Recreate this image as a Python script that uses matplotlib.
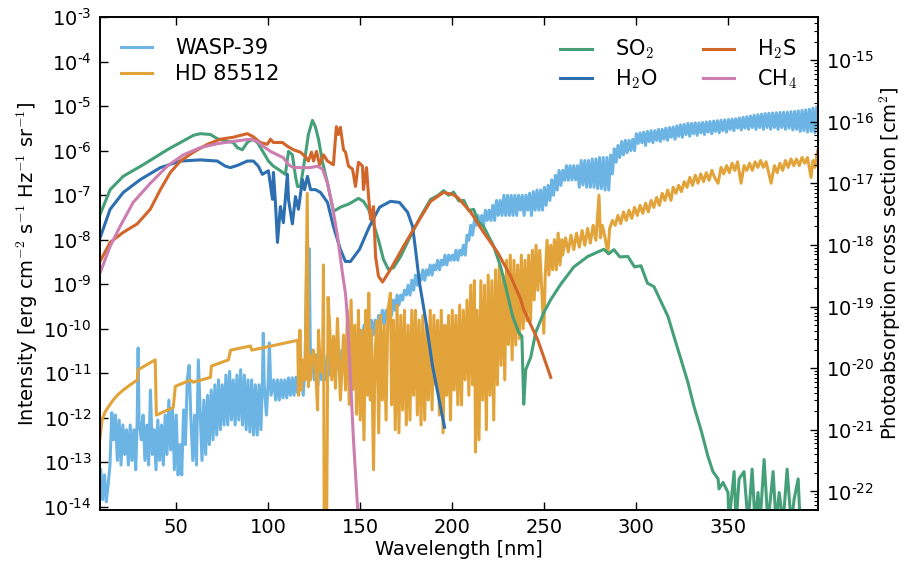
import numpy as np
import matplotlib
matplotlib.use("Agg")
import matplotlib.pyplot as plt
from matplotlib.ticker import FixedLocator, FuncFormatter, MultipleLocator, LogLocator, NullLocator, NullFormatter

plt.rcParams['font.family'] = ['DejaVu Sans']
plt.rcParams['mathtext.fontset'] = 'cm'
plt.rcParams['axes.unicode_minus'] = False

# ---- stellar spectra (left axis) ----
wasp_wl = [9, 10, 11, 12, 13, 14, 15, 16, 17, 18, 19, 20, 21, 22, 23, 24, 25, 26, 27, 28, 28.8, 29.3, 29.8,
           31, 32, 33, 34, 35, 36, 37, 38, 39, 40, 41, 42, 43, 44, 45, 46, 47, 48, 49, 50, 51, 52, 53, 54,
           55, 56, 57, 58, 59, 60, 61, 62, 63, 64, 65, 66, 67, 68, 69, 70, 71, 72, 73, 74, 75, 76, 77, 78,
           79, 80, 81, 82, 83, 84, 85, 86, 87, 88, 89, 90, 91, 92, 93, 94, 95, 96, 96.8, 97.3, 97.8, 99,
           100, 100.6, 101.5, 103, 104, 105, 106, 107, 108, 109, 110, 111, 112, 113, 114, 115, 116,
           117, 118, 119, 120, 121, 121.6, 122.2, 123, 124, 125, 126, 127, 128, 129, 130, 131, 132, 133,
           134, 135, 136, 137, 138, 139, 140, 141, 142, 143, 144, 145, 146, 147, 148, 149, 150, 151, 152,
           153, 154, 155, 156, 157, 158, 159, 160, 161, 162, 163, 164, 165, 166, 167, 168, 169, 170, 171,
           172, 173, 174, 175, 176, 177, 178, 179, 180, 181, 182, 183, 184, 185, 186, 187, 188, 189, 190,
           191, 192, 193, 194, 195, 196, 197, 198, 199, 200, 201, 202, 203, 204, 205, 206, 207, 208, 209,
           210, 211, 212, 213, 214, 215, 216, 217, 218, 219, 220, 221, 222, 223, 224, 225, 226, 227, 228,
           229, 230, 231, 232, 233, 234, 235, 236, 237, 238, 239, 240, 241, 242, 243, 244, 245, 246, 247,
           248, 249, 250, 251, 252, 253, 254, 255, 256, 257, 258, 259, 260, 261, 262, 263, 264, 265, 266,
           267, 268, 269, 270, 271, 272, 273, 274, 275, 276, 277, 278, 279, 280, 281, 282, 283, 284, 285,
           286, 287, 288, 289, 290, 291, 292, 293, 294, 295, 296, 297, 298, 299, 300, 301, 302, 303, 304,
           305, 306, 307, 308, 309, 310, 311, 312, 313, 314, 315, 316, 317, 318, 319, 320, 321, 322, 323,
           324, 325, 326, 327, 328, 329, 330, 331, 332, 333, 334, 335, 336, 337, 338, 339, 340, 341, 342,
           343, 344, 345, 346, 347, 348, 349, 350, 351, 352, 353, 354, 355, 356, 357, 358, 359, 360, 361,
           362, 363, 364, 365, 366, 367, 368, 369, 370, 371, 372, 373, 374, 375, 376, 377, 378, 379, 380,
           381, 382, 383, 384, 385, 386, 387, 388, 389, 390, 391, 392, 393, 394, 395, 396, 397, 398]
wasp_flux = [6.8e-14, 1.45e-14, 5.2e-14, 1.3e-14, 3.1e-14, 8.7e-14, 1.3e-12, 3.2e-13, 1.15e-12, 1.1e-13,
             8.9e-13, 8.7e-14, 6.9e-13, 1.5e-13, 5.4e-13, 8.7e-14, 6.9e-13, 1.1e-13, 5.4e-13, 6.8e-14,
             8.9e-13, 3.7e-11, 8.9e-13,
             3.2e-13, 1.15e-12, 1.1e-13, 6.9e-13, 8.7e-14, 4.2e-12, 1.5e-13, 5.4e-13, 6.8e-14, 8.9e-13,
             1.1e-13, 6.9e-13, 8.7e-14, 1.15e-12, 1.5e-13, 2.5e-12, 1.9e-13, 1.5e-12, 6.8e-14, 1.15e-12,
             5.2e-14, 2.5e-13, 5.2e-14, 1.5e-12,
             2.5e-13, 7.1e-12, 1.5e-11, 8.9e-13, 1.1e-13, 1.15e-12, 8.7e-14, 2.0e-11, 1.5e-12, 1.1e-13,
             2.5e-12, 1.5e-13, 3.2e-12, 2.5e-13, 4.2e-12, 3.2e-13, 5.5e-12, 4.1e-13, 7.1e-12, 5.4e-13,
             5.5e-12, 6.9e-13, 9.1e-12, 6.9e-13,
             1.1e-11, 8.9e-13, 7.1e-12, 6.9e-13, 9.1e-12, 8.9e-13, 1.2e-11, 6.9e-13, 9.1e-12, 5.4e-13,
             7.1e-12, 4.8e-13, 7.1e-12, 4.1e-13, 5.5e-12, 4.1e-13, 5.5e-12, 5.4e-13, 5.5e-12, 7.9e-11,
             5.5e-12, 1.15e-12,
             7.1e-12, 4.8e-11, 3.2e-12, 7.1e-12, 2.5e-12, 7.1e-12, 2.5e-12, 7.1e-12, 2.8e-12, 7.1e-12,
             2.8e-12, 7.9e-12, 3.2e-12, 7.9e-12, 3.2e-12, 8.2e-12, 3.6e-12,
             4.2e-12, 1.2e-11, 3.2e-12, 1.5e-11, 6.8e-9, 1.5e-11, 6.3e-9, 1.2e-11, 3.3e-11, 7.1e-12,
             2.6e-11, 5.5e-12, 2.6e-11, 7.1e-12, 2.0e-11, 7.1e-12, 2.6e-11, 9.1e-12,
             2.6e-11, 9.1e-12, 3.3e-11, 1.2e-11, 3.3e-11, 1.2e-11, 3.3e-11, 1.5e-11, 4.3e-11, 1.5e-11,
             5.5e-11, 2.0e-11, 5.5e-11, 2.6e-11, 7.2e-11, 3.3e-11, 9.3e-11, 4.3e-11, 1.2e-10,
             5.5e-11, 1.55e-10, 7.2e-11, 1.55e-10, 7.2e-11, 1.55e-10, 9.3e-11, 2.0e-10, 1.2e-10, 2.6e-10,
             1.2e-10, 2.6e-10, 1.55e-10, 3.4e-10, 2.0e-10, 4.4e-10, 2.6e-10, 5.7e-10, 3.4e-10,
             5.7e-10, 4.4e-10, 7.3e-10, 5.7e-10, 9.5e-10, 5.7e-10, 1.23e-9, 7.3e-10, 1.6e-9, 9.5e-10,
             1.6e-9, 1.23e-9, 2.1e-9, 1.23e-9, 2.1e-9, 1.6e-9, 2.7e-9, 1.6e-9, 2.7e-9,
             2.1e-9, 3.45e-9, 2.1e-9, 3.45e-9, 2.7e-9, 4.5e-9, 2.7e-9, 4.5e-9, 3.45e-9, 4.5e-9, 3.45e-9,
             5.8e-9, 3.45e-9, 5.8e-9, 4.5e-9, 7.5e-9, 4.5e-9, 1.26e-8, 9.7e-9,
             2.1e-8, 1.26e-8, 2.7e-8, 2.1e-8, 3.5e-8, 2.1e-8, 3.5e-8, 2.1e-8, 4.6e-8, 2.7e-8, 4.6e-8,
             2.7e-8, 5.9e-8, 2.7e-8, 7.6e-8, 3.5e-8, 7.6e-8, 3.5e-8, 9.9e-8,
             3.5e-8, 9.9e-8, 3.5e-8, 9.9e-8, 3.5e-8, 9.9e-8, 3.5e-8, 9.9e-8, 4.6e-8, 9.9e-8, 3.5e-8,
             1.0e-7, 4.6e-8, 1.1e-7, 3.5e-8, 1.2e-7, 4.6e-8, 1.3e-7, 4.6e-8,
             1.3e-7, 4.6e-8, 1.5e-7, 5.9e-8, 1.66e-7, 7.6e-8, 2.2e-7, 9.9e-8, 2.8e-7, 1.3e-7, 3.6e-7,
             1.66e-7, 3.6e-7, 2.15e-7, 4.6e-7, 2.15e-7, 4.6e-7, 2.2e-7, 4.6e-7,
             2.2e-7, 4.6e-7, 1.5e-7, 6.0e-7, 1.7e-7, 6.0e-7, 1.5e-7, 6.0e-7, 1.5e-7, 6.5e-7, 1.5e-7,
             6.5e-7, 1.4e-7, 7.0e-7, 1.4e-7, 7.0e-7, 1.3e-7, 7.0e-7, 1.3e-7,
             8.0e-7, 3.0e-7, 1.1e-6, 5.5e-7, 1.3e-6, 7.0e-7, 1.6e-6, 8.0e-7, 1.7e-6, 9.0e-7, 1.7e-6,
             1.0e-6, 1.8e-6, 1.0e-6, 2.4e-6, 1.45e-6, 2.5e-6, 1.5e-6, 2.6e-6,
             1.3e-6, 2.7e-6, 1.6e-6, 2.8e-6, 1.5e-6, 2.8e-6, 1.7e-6, 3.0e-6, 1.6e-6, 3.0e-6, 1.8e-6,
             3.2e-6, 1.7e-6, 3.3e-6, 2.0e-6, 3.4e-6, 1.8e-6, 3.6e-6, 2.1e-6,
             3.8e-6, 2.0e-6, 3.9e-6, 2.3e-6, 4.1e-6, 2.1e-6, 4.1e-6, 2.4e-6, 4.2e-6, 2.2e-6, 4.2e-6,
             2.5e-6, 4.3e-6, 2.3e-6, 4.4e-6, 2.6e-6, 4.5e-6, 2.4e-6, 4.6e-6,
             2.7e-6, 4.7e-6, 2.5e-6, 4.8e-6, 2.8e-6, 4.9e-6, 2.6e-6, 5.0e-6, 3.0e-6, 5.1e-6, 2.8e-6,
             5.2e-6, 3.2e-6, 5.4e-6, 2.9e-6, 5.6e-6, 3.2e-6, 5.8e-6, 3.0e-6,
             6.0e-6, 3.3e-6, 6.2e-6, 3.0e-6, 6.4e-6, 3.3e-6, 6.6e-6, 3.0e-6, 6.8e-6, 3.3e-6, 6.9e-6,
             3.0e-6, 7.0e-6, 3.3e-6, 7.1e-6, 3.0e-6, 7.2e-6, 3.3e-6, 7.3e-6,
             3.0e-6, 7.3e-6, 3.2e-6, 7.5e-6, 2.9e-6, 7.6e-6, 3.0e-6, 7.8e-6, 2.7e-6, 8.0e-6, 2.8e-6,
             8.2e-6, 2.6e-6, 8.5e-6, 2.7e-6, 9.0e-6, 2.5e-6, 9.4e-6]

hd_wl = [8.6, 9.7, 11.3, 12.5, 15.7, 18, 21.2, 25, 28.8, 29.3, 38.6, 39.2, 48.4, 49.5, 57.7, 59.3, 68.6,
         69.1, 78.4, 79.5, 90.4, 91.0, 116.0,
         116.5, 117.2, 118, 119, 120, 121.2, 121.8, 122.5, 123, 124.5, 125.5, 126.8, 127.3, 128.4,
         129.5, 130.0, 130.5, 131.5, 132.5, 133.5, 134.5, 135.5, 136.5, 137.6, 138.5, 139.2, 140,
         140.9, 142, 143, 144, 145, 146, 147, 148, 149, 150, 151, 152, 153, 154, 154.6, 155.5, 156,
         157.2, 158, 159, 160, 161, 162, 163, 164, 165, 166.4, 167, 168, 169, 170, 171, 172, 173, 174,
         175, 176, 177, 178, 179, 180, 181, 182, 183, 184, 185, 186, 187, 188, 189, 190, 191, 192, 193,
         194, 195, 196, 197, 198, 199, 200, 201, 202, 203, 204, 205, 206, 207, 208, 209, 210, 211, 212,
         212.6, 213.5, 214.5, 215.5, 216.5, 217.5, 218.5, 219.5, 220.5, 221.5, 222.5, 223.5, 224.5,
         225.5, 226.5, 227.5, 228.5, 229.5, 230.5, 231.5, 232.5, 233.5, 234.5, 235.5, 236.5, 237.5,
         238.5, 239.5, 240.5, 241.5, 242.5, 243.5, 244.5, 245.5, 246.5, 247.5, 248.5, 249.7, 250.5,
         251.5, 252.5, 253.5, 254.5, 255.5, 256.5, 257.5, 258.5, 259.5,
         260, 261.5, 263, 264.5, 266, 267.5, 269, 270.5, 272, 273.5, 275, 276.5, 278, 279.7, 280.5,
         281.5, 283, 284.5, 285.5, 287, 288.5, 290, 291.5, 293, 294.5, 296, 297.5, 299, 300.5, 302,
         303.5, 305, 306.5, 308, 309.5, 311, 312.5, 314, 315.5, 317, 318.8, 320, 321.5, 323, 324.5,
         326, 327.5, 329, 330.5, 332, 333.5, 335, 336.5, 338, 339.5, 341, 342.5, 344.4, 346, 347.5,
         349, 350.5, 352, 353.5, 355, 356.9, 358.5, 360, 361.5, 363, 364.5, 366, 367.5, 369, 370.5,
         373.2, 375, 376.5, 378, 379.5, 381, 382.5, 384, 385.5, 387, 388.5, 390, 391.5, 393, 394.9,
         396, 397, 398.5]
hd_flux = [3.5e-13, 8.9e-13, 1.35e-12, 1.6e-12, 2.5e-12, 3.2e-12, 4.2e-12, 5.5e-12, 7.0e-12, 1.2e-11,
           2.0e-11, 1.15e-12, 1.7e-12, 5.1e-12, 7.0e-12, 6.3e-12, 8.1e-12, 1.45e-11, 2.0e-11, 3.3e-11,
           4.1e-11, 3.3e-11, 5.5e-11,
           3.2e-12, 9.3e-11, 4.2e-12, 2.0e-11, 7.1e-12, 1.1e-7, 5.0e-12, 2.6e-11, 7.1e-12, 3.3e-11,
           2.0e-11, 1.5e-12, 9.3e-11, 1.2e-11,
           1.0e-11, 2.7e-9, 1e-16, 1e-16, 5.1e-10, 9.3e-11, 7.1e-12, 6.8e-11, 4.6e-12, 1.7e-10, 1.5e-11,
           2.5e-12, 1.2e-11,
           7.2e-11, 4.2e-12, 2.6e-10, 2.0e-12, 4.4e-10, 4.3e-12, 1.2e-10, 1.2e-12, 2.6e-10, 8.9e-13,
           9.3e-11, 3.2e-13, 2.6e-10, 3.2e-12, 6.3e-10, 2.5e-12, 9.3e-11,
           6.8e-14, 2.6e-11, 1.5e-10, 4.6e-13, 2.0e-10, 2.5e-12, 1.2e-10, 8.9e-13, 2.6e-10, 6.3e-10,
           1.95e-12, 1.55e-10, 5.4e-13, 3.4e-10, 4.6e-13, 2.0e-10, 1.5e-12, 2.6e-10,
           6.9e-13, 1.2e-10, 8.9e-13, 2.6e-10, 3.2e-12, 2.6e-10, 1.15e-12, 1.55e-10, 6.9e-13, 2.0e-10,
           8.9e-13, 1.2e-10, 2.5e-12, 2.6e-10, 1.5e-12, 2.0e-10, 5.5e-12, 1.55e-10, 1.15e-12,
           2.6e-10, 4.6e-13, 1.2e-10, 3.2e-12, 2.0e-10, 8.9e-13, 2.6e-10, 4.2e-12, 2.0e-10, 1.95e-12,
           3.4e-10, 1.95e-12, 2.6e-10, 7.1e-12, 4.4e-10, 3.2e-12, 9.5e-10, 5.5e-12, 1.2e-9,
           1.7e-13, 2.6e-10, 3.2e-13, 1.2e-9, 2.5e-12, 9.5e-10, 5.4e-13, 1.6e-9, 3.2e-12, 1.2e-9,
           8.9e-13, 2.1e-9, 5.5e-12,
           2.7e-9, 1.5e-11, 1.6e-9, 7.1e-12, 3.45e-9, 4.4e-11, 4.5e-9, 2.0e-11, 3.45e-9, 4.3e-11,
           2.7e-9, 6.0e-11, 4.5e-9,
           1.0e-10, 3.45e-9, 1.5e-10, 4.5e-9, 1.5e-10, 5.8e-9, 4.4e-10, 7.5e-9, 7.3e-10, 5.8e-9,
           9.5e-10, 7.9e-11, 1.6e-9,
           9.7e-9, 1.6e-9, 7.5e-9, 2.1e-9, 1.0e-8, 2.1e-9, 1.4e-8, 2.7e-9, 1.0e-8,
           4.5e-9, 1.1e-8, 5.3e-9, 1.26e-8, 6.0e-9, 1.4e-8, 6.8e-9, 1.6e-8, 7.5e-9, 1.8e-8, 8.4e-9,
           2.1e-8, 9.7e-9, 9.9e-8, 1.1e-8,
           2.1e-8, 1.1e-8, 4.9e-9, 1.8e-8, 2.7e-8, 2.1e-8, 3.5e-8, 2.3e-8, 4.2e-8, 2.7e-8, 4.6e-8,
           3.0e-8, 5.3e-8, 3.5e-8, 5.9e-8,
           3.9e-8, 6.6e-8, 4.2e-8, 7.6e-8, 5.3e-8, 8.9e-8, 5.9e-8, 1.1e-7, 7.6e-8, 1.3e-7, 7.6e-8,
           1.5e-7, 1.1e-7, 1.66e-7, 1.2e-7,
           2.0e-7, 1.5e-7, 2.5e-7, 1.66e-7, 2.8e-7, 1.85e-7, 3.0e-7, 2.0e-7, 3.2e-7, 2.15e-7, 3.6e-7,
           2.5e-7, 1.85e-7, 4.2e-7, 3.0e-7,
           4.6e-7, 3.2e-7, 5.2e-7, 3.6e-7, 5.6e-7, 1.85e-7, 4.6e-7, 3.6e-7, 5.2e-7, 3.6e-7, 5.6e-7,
           4.2e-7, 6.0e-7, 4.2e-7, 5.6e-7,
           1.85e-7, 4.6e-7, 3.2e-7, 5.2e-7, 3.6e-7, 6.0e-7, 4.2e-7, 6.5e-7, 4.6e-7, 6.5e-7, 4.6e-7,
           7.0e-7, 5.2e-7, 7.0e-7, 2.5e-7,
           6.0e-7, 4.2e-7, 1.0e-6]

# ---- photoabsorption cross sections (right axis) ----
so2_wl = [8.6, 14.1, 21.2, 32.0, 45.1, 59.3, 63.1, 68.6, 72.3, 77.8, 81.0, 83.2, 85.9, 88.6, 91.4, 94.1,
          97.3, 100.1, 102.8, 106.6, 109.3, 111.0, 113.1, 114.8, 115.9, 117.5, 120.2, 121.8, 124.0,
          125.6, 127.3, 129.5, 132.2, 135.4, 139.2, 143.6, 146.3, 149.0, 151.7, 154.5, 157.2, 159.9,
          162.6, 165.3, 168.1, 171.9, 177.3, 182.8, 188.2, 192.0, 195.3, 198.0, 200.7, 203.5, 206.2,
          209.0, 211.6, 214.0, 217.0, 222.5, 226.3, 229.0, 232.8, 236.1, 237.8, 238.8, 239.9, 242.6,
          245.3, 249.7, 253.5, 258.9, 266.0, 273.6, 282.3, 285.0, 287.8, 291.0, 295.4, 299.0, 302.5,
          306.0, 309.6, 313.4, 317.2, 320.4, 324.2, 328.0, 331.3, 335.1, 338.9, 341.6, 344.4, 344.9,
          347.1, 349.8, 350.3, 353.1, 354.2, 355.8, 358.5, 360.7, 362.9, 364.5, 366.1, 367.2, 369.4,
          371.5, 374.3, 375.9, 377.6, 379.7, 381.9, 384.1, 385.7, 387.9, 389.0]
so2_xs = [3.1e-18, 7.9e-18, 1.3e-17, 2.0e-17, 3.5e-17, 6.0e-17, 6.4e-17, 6.2e-17, 5.3e-17, 4.8e-17,
          4.6e-17, 3.8e-17, 3.5e-17, 4.6e-17, 5.2e-17, 4.6e-17, 3.2e-17, 2.3e-17, 1.9e-17, 1.6e-17,
          1.4e-17, 3.3e-17, 2.9e-17, 1.3e-17, 8.9e-18, 8.9e-18, 2.9e-17, 6.2e-17, 1.05e-16, 8.3e-17,
          5.2e-17, 2.2e-17, 1.0e-17, 3.5e-18, 4.1e-18, 4.6e-18, 5.1e-18, 5.7e-18, 5.1e-18, 3.8e-18,
          2.2e-18, 1.2e-18, 5.8e-19, 4.0e-19, 4.3e-19, 6.5e-19, 1.4e-18, 2.9e-18, 5.5e-18, 6.3e-18,
          7.6e-18, 6.4e-18, 7.2e-18, 5.2e-18, 5.3e-18, 3.6e-18, 3.8e-18, 2.4e-18, 2.0e-18, 9.5e-19,
          4.4e-19, 2.1e-19, 6.9e-20, 3.8e-20, 3.3e-20, 2.6e-21, 9.5e-21, 1.5e-20, 3.8e-20, 8.0e-20,
          1.3e-19, 2.3e-19, 4.4e-19, 6.5e-19, 8.5e-19, 7.2e-19, 8.4e-19, 6.4e-19, 6.5e-19, 4.4e-19,
          4.6e-19, 2.4e-19, 2.1e-19, 1.2e-19, 6.9e-20, 3.3e-20, 1.4e-20, 5.9e-21, 2.4e-21, 1.0e-21,
          3.7e-22, 2.1e-22, 1.6e-22, 1.1e-22, 1.4e-22, 9.6e-23, 3e-23, 2.1e-22, 3e-23, 1.6e-22,
          2.1e-22, 3e-23, 2.3e-22, 3e-23, 9.6e-23, 3e-23, 3.3e-22, 3e-23, 2.1e-22, 3e-23, 9.6e-23,
          3e-23, 2.3e-22, 3e-23, 7.4e-23, 1.6e-22, 3e-23]

h2o_wl = [8.6, 14.1, 21.2, 30.5, 41.4, 52.3, 63.1, 72.3, 76.7, 79.4, 83.2, 88.6, 91.9, 94.6, 96.8, 98.5,
          100.1, 102.3, 102.8, 103.9, 105.0, 106.6, 108.2, 110.4, 111.0, 113.1, 114.8, 116.4, 118.6,
          119.7, 121.3, 123.0, 125.7, 128.4, 132.2, 135.4, 139.2, 141.9, 144.7, 149.6, 155.0, 160.5,
          166.4, 171.3, 175.7, 178.4, 180.0, 182.2, 185.5, 189.3, 193.1, 195.8]
h2o_xs = [1.3e-18, 3.8e-18, 7.1e-18, 1.15e-17, 1.8e-17, 2.3e-17, 2.4e-17, 2.3e-17, 1.9e-17, 1.8e-17,
          1.95e-17, 2.3e-17, 2.3e-17, 1.9e-17, 1.4e-17, 1.5e-17, 1.6e-17, 5.5e-18, 1.5e-17, 4.9e-18,
          1.1e-18, 4.2e-18, 2.3e-18, 1.4e-17, 5.5e-18, 2.2e-18, 6.1e-18, 3.8e-18, 1.15e-17, 7.9e-18,
          1.3e-17, 7.9e-18, 7.9e-18, 7.1e-18, 4.9e-18, 2.0e-18, 8.5e-19, 5.4e-19, 5.4e-19, 8.5e-19,
          2.0e-18, 4.1e-18, 5.1e-18, 4.9e-18, 3.4e-18, 2.0e-18, 8.5e-19, 2.4e-19, 6.2e-20, 1.07e-20,
          2.8e-21, 1.1e-21]

h2s_wl = [8.6, 14.1, 21.2, 28.8, 35.9, 41.4, 46.8, 52.3, 59.3, 66.9, 74.0, 81.0, 88.6, 91.9, 95.7, 99.5,
          101.2, 102.8, 107.7, 110.4, 113.7, 117.5, 120.2, 121.8, 123.5, 124.6, 126.2, 127.9, 130.0,
          132.2, 135.4, 137.0, 138.1, 139.2, 140.9, 142.0, 143.6, 145.8, 147.4, 149.0, 151.2, 151.7,
          153.4, 154.5, 155.6, 157.2, 158.3, 159.9, 162.1, 166.4, 173.5, 181.1, 188.2, 193.6, 195.3,
          200.2, 202.9, 210.0, 217.0, 224.6, 231.7, 237.2, 238.8, 246.4, 253.5]
h2s_xs = [5.4e-19, 1.1e-18, 1.6e-18, 2.2e-18, 3.8e-18, 7.9e-18, 1.5e-17, 2.3e-17, 3.2e-17, 4.3e-17,
          5.2e-17, 5.6e-17, 6.4e-17, 5.7e-17, 4.6e-17, 4.3e-17, 5.2e-17, 4.6e-17, 4.6e-17, 4.0e-17,
          3.5e-17, 3.2e-17, 2.7e-17, 2.3e-17, 3.2e-17, 2.3e-17, 3.3e-17, 2.0e-17, 2.9e-17, 2.3e-17,
          2.0e-17, 8.3e-17, 6.2e-17, 8.1e-17, 3.5e-17, 3.2e-17, 1.9e-17, 1.7e-17, 8.9e-18, 2.2e-17,
          1.9e-17, 7.9e-18, 1.8e-17, 6.1e-18, 2.6e-18, 4.2e-18, 6.5e-19, 3.1e-19, 2.5e-19, 4.0e-19,
          9.5e-19, 2.3e-18, 5.1e-18, 6.6e-18, 7.1e-18, 6.6e-18, 5.9e-18, 3.4e-18, 1.6e-18, 7.6e-19,
          3.1e-19, 1.3e-19, 8.9e-20, 2.9e-20, 7.1e-21]

ch4_wl = [8.6, 14.1, 19.5, 26.6, 35.9, 45.1, 53.9, 63.1, 72.3, 81.0, 90.2, 94.1, 97.3, 101.2, 105.0,
          108.2, 111.0, 113.7, 117.5, 122.9, 126.7, 129.5, 132.2, 134.9, 137.6, 140.3, 142.0, 143.1,
          144.7, 146.3, 148.5, 149.6]
ch4_xs = [3.5e-19, 9.5e-19, 2.0e-18, 4.9e-18, 1.0e-17, 1.9e-17, 2.9e-17, 3.8e-17, 4.4e-17, 4.8e-17,
          5.2e-17, 4.8e-17, 4.0e-17, 3.3e-17, 2.9e-17, 2.6e-17, 2.0e-17, 1.8e-17, 1.8e-17, 1.8e-17,
          1.9e-17, 1.7e-17, 1.0e-17, 4.2e-18, 1.4e-18, 3.5e-19, 1.6e-19, 6.2e-20, 6.6e-21, 6.9e-22,
          5.6e-23, 3e-23]

left_decades = [-14, -13, -12, -11, -10, -9, -8, -7, -6, -5, -4, -3]
right_decades = [-22, -21, -20, -19, -18, -17, -16, -15]


def exp_label(v, pos):
    e = int(round(np.log10(v)))
    return r"$\mathregular{10^{%s}}$" % (("\u2010%d" % -e) if e < 0 else "%d" % e)


fig = plt.figure(figsize=(9.06, 5.69), dpi=100)
ax = fig.add_axes([0.1104, 0.1037, 0.7925, 0.8664])
ax2 = ax.twinx()

lw = 2.2
ax.plot(wasp_wl, wasp_flux, color='#6cb4e4', lw=lw, label='WASP-39')
ax.plot(hd_wl, hd_flux, color='#e2a43a', lw=lw, label='HD 85512')

ax2.plot(so2_wl, so2_xs, color='#45a07a', lw=lw, label=r'SO$_2$')
ax2.plot(h2o_wl, h2o_xs, color='#2d6fb0', lw=lw, label=r'H$_2$O')
ax2.plot(h2s_wl, h2s_xs, color='#d2652a', lw=lw, label=r'H$_2$S')
ax2.plot(ch4_wl, ch4_xs, color='#cc7eb0', lw=lw, label=r'CH$_4$')

ax.set_xlim(8.6, 398.7)
ax.set_yscale('log')
ax.set_ylim(8.5e-15, 1e-3)
ax2.set_yscale('log')
ax2.set_ylim(5e-23, 5e-15)

ax.xaxis.set_major_locator(MultipleLocator(50))
ax.yaxis.set_major_locator(FixedLocator([10.0 ** d for d in left_decades]))
ax.yaxis.set_minor_locator(NullLocator())
ax.yaxis.set_major_formatter(FuncFormatter(exp_label))
ax2.yaxis.set_major_locator(FixedLocator([10.0 ** d for d in right_decades]))
ax2.yaxis.set_minor_locator(LogLocator(base=10, subs=np.arange(2, 10), numticks=30))
ax2.yaxis.set_minor_formatter(NullFormatter())
ax2.yaxis.set_major_formatter(FuncFormatter(exp_label))

ax.tick_params(axis='x', which='both', direction='in', top=True, length=6, width=1, labelsize=14, pad=6)
ax.tick_params(axis='y', which='both', direction='in', left=True, right=False, length=6, width=1,
               labelsize=14, pad=6)
ax2.tick_params(axis='y', which='major', direction='in', length=6, width=1, labelsize=14, pad=6)
ax2.tick_params(axis='y', which='minor', direction='in', length=3, width=0.8)
for a in (ax, ax2):
    for s in a.spines.values():
        s.set_linewidth(1.2)

ax.set_xlabel('Wavelength [nm]', fontsize=14, labelpad=2)
ax.set_ylabel(r'Intensity [erg cm$^{-2}$ s$^{-1}$ Hz$^{-1}$ sr$^{-1}$]', fontsize=14, labelpad=2)
ax2.set_ylabel(r'Photoabsorption cross section [cm$^2$]', fontsize=14, labelpad=2)

ax.legend(loc='upper left', frameon=False, fontsize=15, handlelength=1.5, handletextpad=1.1,
          labelspacing=0.3, borderaxespad=0.6)
ax2.legend(loc='upper right', frameon=False, fontsize=15, ncol=2, handlelength=1.5,
           handletextpad=1.1, labelspacing=0.3, columnspacing=2.2, borderaxespad=0.6)

fig.savefig('out.png', dpi=100)
